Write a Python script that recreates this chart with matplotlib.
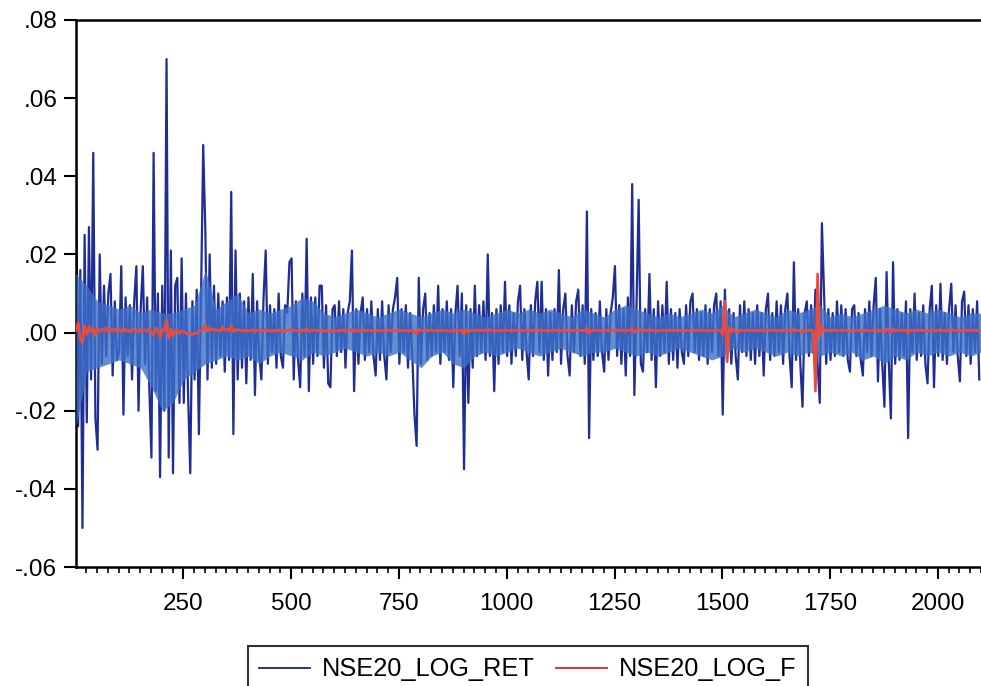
import numpy as np
import matplotlib
matplotlib.use("Agg")
import matplotlib.pyplot as plt
from matplotlib.ticker import MultipleLocator, FuncFormatter

ret_rows = [
    [45, -24, 16, -50, 25, -23, 27, -12, 46, -22, -30, 20, -8, 12, -6, 10, 15, -11, 8, -7],
    [-5, 17, -21, 9, -6, 7, -12, 8, 17, -20, 6, 17, -8, 9, -14, -32, 46, -15, 10, -37],
    [12, -20, 70, -32, 21, -36, 12, 14, -18, 19, -18, 10, -16, -36, 8, -12, 11, -26, 9, 48],
    [26, -12, 20, -9, 12, -8, 10, -6, 8, -10, 9, -7, 36, -26, 21, -12, 10, -9, 8, -13],
    [9, -7, 15, -16, 8, -6, -12, 9, 21, -8, 7, -5, 6, -9, 10, -6, -9, 7, 5, 18],
    [19, -12, 8, -7, -14, 10, -6, 24, -15, 9, -8, 9, -6, 12, 12, -9, 7, -13, -14, 6],
    [7, -6, 8, -5, 6, -9, 5, 8, 21, -15, 6, -8, 5, 9, -7, 6, -5, 8, -6, -11],
    [6, -7, 8, -6, -12, 7, -5, 6, 9, 14, -8, 6, -5, 7, -9, 5, -6, -21, -29, 14],
    [-8, 6, 10, -7, 5, -6, 7, -5, 12, -8, 6, -5, 8, -7, 6, -14, 5, 12, -6, 10],
    [-35, 7, -18, 6, -9, 12, -6, 7, -5, 8, -7, 20, -6, 5, -15, 6, -8, 7, -5, 13],
    [-6, 7, -8, 5, -6, 8, 12, -7, 6, -5, -12, 7, -6, 8, 13, -5, 13, -7, 6, -11],
    [5, -7, 6, -5, 16, -8, 6, 10, -6, -11, 7, -5, 8, 11, -6, 7, -8, 31, -27, 6],
    [-7, 5, -6, 8, -5, -10, 6, -7, 5, 9, 17, -6, 7, -8, 6, -11, 9, -6, 38, -16],
    [7, 34, -8, -10, 6, -5, 15, -7, 6, -14, 8, -6, 7, -5, 13, -8, 6, -7, 5, -9],
    [6, -5, -8, 7, -6, 8, 10, -5, 6, -7, 5, -6, 7, -8, 6, -5, 7, 10, -6, 8],
    [-21, 11, -7, 6, -8, 5, -6, -12, 7, -5, 8, -6, 6, -7, 5, -8, 7, -6, 5, -11],
    [6, 10, -7, 5, -6, 8, -5, 7, -8, 6, 10, -6, -14, 18, -7, 6, -8, -19, 5, 8],
    [-6, 7, -5, 11, -8, -18, 28, 10, -8, 6, -7, 5, -6, 8, -5, 7, -6, 6, -7, -10],
    [6, 7, -6, 5, -7, -11, 6, -5, 8, -6, 7, 14, -12.5, 6, -8, -19, 15.5, -7, -22, 18],
    [-8, 6, -7, 5, -6, 8, -27, 6, -5, 10, -7, 5, -6, 7, -8, -13, 6, 12, -14, 7],
    [-6, 12.5, -7, 5, -8, 6, 12.5, -5, 7, -6, -12.5, 8, 10.5, -6, 7, -8, 6, -5, 8, -12],
]

# dense part of the return series: upper / lower edge every 25 observations (units of 0.001)
band_hi = [15, 12, 8, 7, 6, 7, 5, 6, 5, 5, 6, 7, 16, 6, 8, 10, 5, 6, 5, 6,
           7, 9, 8, 5, 4, 5, 6, 5, 4, 5, 6, 5, 4, 5, 6, 5, 6, 5, 4, 5,
           6, 5, 6, 5, 6, 5, 4, 6, 5, 4, 6, 7, 6, 5, 4, 5, 4, 5, 6, 5,
           7, 4, 5, 6, 5, 4, 6, 5, 6, 7, 4, 5, 4, 5, 6, 7, 6, 5, 6, 5,
           6, 5, 4, 5, 5]
band_lo = [-24, -10, -9, -8, -7, -8, -9, -14, -20, -18, -12, -10, -8, -7, -6, -7, -6, -8, -6, -5,
           -6, -7, -5, -6, -5, -4, -5, -6, -5, -6, -5, -7, -9, -6, -5, -8, -9, -6, -5, -6,
           -5, -4, -5, -6, -5, -4, -5, -6, -5, -5, -4, -5, -6, -5, -6, -5, -4, -5, -6, -7,
           -6, -4, -5, -4, -5, -6, -5, -6, -5, -6, -5, -6, -5, -7, -6, -8, -6, -7, -5, -6,
           -5, -6, -5, -6, -5]

# NSE20 log forecast (units of 0.001)
fc_rows = [
    [0.5, 2.5, -1.5, -2.7, 1.8, -0.5, 1.5, 0.2, 1.2, -0.8, 1.0, 0.3, 0.9, 0.4, 1.1, 0.2, 0.8, 0.5, 1.0, 0.3],
    [0.8, 0.2, 1.0, 0.4, 0.7, 0.1, 0.9, 0.5, 0.6, 0.2, 0.8, 0.4, 0.7, 0.3, 0.9, 0.1, -0.6, 1.2, 0.4, -1.2],
    [0.8, 0.5, 3.3, -1.5, 0.9, -0.8, 0.4, 0.6, -0.3, 0.5, 0.2, 0.0, -0.4, -0.2, -0.5, -0.1, -0.3, 0.2, 0.5, 0.8],
    [2.0, 0.3, 1.2, 0.6, 0.9, 0.5, 0.8, 0.3, 1.5, 0.6, 0.9, 0.4, 1.8, 0.2, 0.8, 0.5, 0.7, 0.4, 0.6, 0.3],
    [0.6, 0.4, 0.8, 0.2, 0.7, 0.5, 0.3, 0.6, 0.9, 0.4, 0.6, 0.3, 0.5, 0.4, 0.7, 0.5, 0.3, 0.6, 0.5, 0.8],
    [0.9, 0.4, 0.6, 0.5, 0.2, 0.7, 0.4, 1.0, 0.3, 0.6, 0.5, 0.7, 0.4, 0.6, 0.8, 0.3, 0.5, 0.4, 0.2, 0.6],
    [0.5, 0.4, 0.6, 0.5, 0.7, 0.3, 0.6, 0.5, 0.9, 0.2, 0.6, 0.4, 0.5, 0.7, 0.4, 0.6, 0.5, 0.6, 0.4, 0.3],
    [0.6, 0.4, 0.5, 0.6, 0.3, 0.7, 0.5, 0.6, 0.5, 0.8, 0.4, 0.6, 0.5, 0.6, 0.4, 0.5, 0.6, 0.0, -0.4, 0.9],
    [0.4, 0.6, 0.7, 0.4, 0.5, 0.6, 0.5, 0.4, 0.7, 0.4, 0.6, 0.5, 0.6, 0.4, 0.5, 0.2, 0.6, 0.7, 0.5, 0.6],
    [-0.6, 0.7, 0.1, 0.6, 0.4, 0.7, 0.5, 0.6, 0.5, 0.6, 0.4, 0.9, 0.5, 0.6, 0.2, 0.6, 0.4, 0.6, 0.5, 0.7],
    [0.5, 0.6, 0.4, 0.5, 0.6, 0.5, 0.7, 0.4, 0.6, 0.5, 0.3, 0.6, 0.5, 0.6, 0.7, 0.5, 0.7, 0.4, 0.6, 0.4],
    [0.6, 0.5, 0.6, 0.5, 0.8, 0.4, 0.6, 0.7, 0.5, 0.3, 0.6, 0.5, 0.6, 0.7, 0.5, 0.6, 0.4, 1.2, -0.2, 0.6],
    [0.5, 0.6, 0.5, 0.6, 0.5, 0.4, 0.6, 0.5, 0.6, 0.6, 0.8, 0.5, 0.6, 0.5, 0.6, 0.4, 0.6, 0.5, 1.3, 0.1],
    [0.6, 1.1, 0.4, 0.3, 0.6, 0.5, 0.8, 0.5, 0.6, 0.3, 0.6, 0.5, 0.6, 0.5, 0.7, 0.5, 0.6, 0.5, 0.6, 0.4],
    [0.6, 0.5, 0.4, 0.6, 0.5, 0.6, 0.7, 0.5, 0.6, 0.5, 0.6, 0.5, 0.6, 0.4, 0.6, 0.5, 0.6, 0.7, 0.5, 0.6],
    [-0.5, 8.0, -7.5, 1.2, 0.2, 0.9, 0.4, 0.1, 0.7, 0.5, 0.6, 0.5, 0.6, 0.5, 0.6, 0.4, 0.6, 0.5, 0.6, 0.3],
    [0.6, 0.7, 0.5, 0.6, 0.5, 0.6, 0.5, 0.6, 0.4, 0.6, 0.7, 0.5, 0.2, 0.9, 0.5, 0.6, 0.4, 0.1, 0.6, 0.6],
    [0.5, 0.6, 0.5, -15.0, 15.0, -1.0, 1.5, 0.6, 0.4, 0.6, 0.5, 0.6, 0.5, 0.6, 0.5, 0.6, 0.5, 0.6, 0.5, 0.3],
    [0.6, 0.6, 0.5, 0.6, 0.5, 0.3, 0.6, 0.5, 0.6, 0.5, 0.6, 0.8, 0.3, 0.6, 0.5, 0.1, 1.0, 0.5, 0.0, 1.0],
    [0.4, 0.6, 0.5, 0.6, 0.5, 0.6, -0.2, 0.6, 0.5, 0.7, 0.5, 0.6, 0.5, 0.6, 0.5, 0.3, 0.6, 0.8, 0.3, 0.6],
    [0.5, 0.8, 0.5, 0.6, 0.4, 0.6, 0.8, 0.5, 0.6, 0.5, 0.3, 0.6, 0.7, 0.5, 0.6, 0.5, 0.6, 0.5, 0.6, 0.4],
]

ret = np.array(ret_rows, dtype=float).ravel() / 1000
fc = np.array(fc_rows, dtype=float).ravel() / 1000
obs = 1 + 5 * np.arange(len(ret))
hi = np.array(band_hi, dtype=float) / 1000
lo = np.array(band_lo, dtype=float) / 1000
obs_band = 1 + 25 * np.arange(len(hi))

plt.rcParams['font.family'] = ['Liberation Sans', 'DejaVu Sans']

fig = plt.figure(figsize=(9.81, 6.86), dpi=100)
ax = fig.add_axes([76 / 981, 1 - 567 / 686, 1 - 76 / 981, (567 - 20) / 686])

ax.plot(obs, ret, color='#1f2d96', linewidth=1.6, label='NSE20_LOG_RET', zorder=2)
ax.fill_between(obs_band, lo, hi, color='#3d70c8', linewidth=0, alpha=0.8, zorder=3)
ax.plot(obs, fc, color='#ee4a3c', linewidth=1.9, label='NSE20_LOG_F', zorder=4)

ax.set_xlim(1, 2100)
ax.set_ylim(-0.06, 0.08)
ax.xaxis.set_major_locator(MultipleLocator(250))
ax.xaxis.set_minor_locator(MultipleLocator(25))
ax.yaxis.set_major_locator(MultipleLocator(0.02))


def yfmt(v, pos):
    s = '%.2f' % v
    return s.replace('0.', '.')


ax.yaxis.set_major_formatter(FuncFormatter(yfmt))
ax.tick_params(axis='both', which='major', labelsize=17.5, length=8.5, width=1.5,
               direction='out', colors='black')
ax.tick_params(axis='x', which='major', pad=10)
ax.tick_params(axis='y', which='major', pad=5)
ax.tick_params(axis='x', which='minor', length=4.5, width=1.2, direction='out')
ax.tick_params(axis='y', which='minor', length=0)

for side in ['left', 'bottom', 'top']:
    ax.spines[side].set_linewidth(1.8)
ax.spines['right'].set_visible(False)

leg = fig.legend(loc='upper center', bbox_to_anchor=(0.538, 1 - 646 / 686), ncol=2,
                 fontsize=18.3, frameon=True, fancybox=False, handlelength=2.0,
                 handletextpad=0.45, columnspacing=0.85, borderpad=0.45,
                 borderaxespad=0)
leg.get_frame().set_edgecolor('black')
leg.get_frame().set_linewidth(1.5)
leg.legend_handles[0].set_color('#1a237e')
leg.legend_handles[0].set_linewidth(1.3)
leg.legend_handles[1].set_color('#e02020')
leg.legend_handles[1].set_linewidth(1.3)

fig.savefig('out.png', dpi=100)
